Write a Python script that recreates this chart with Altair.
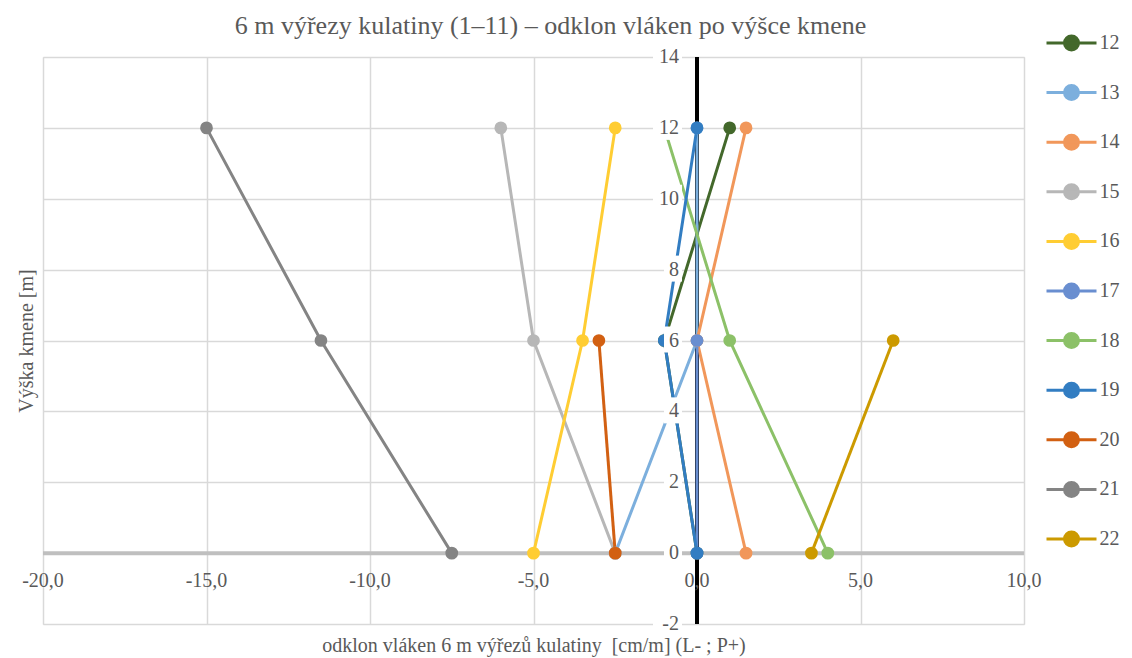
import altair as alt
import pandas as pd

# Stem heights [m] at which the fibre deviation was measured
heights = [0, 6, 12]

# Fibre deviation [cm/m] per log, at heights 0, 6 and 12 m (None = not measured)
series_names = ["12", "13", "14", "15", "16", "17", "18", "19", "20", "21", "22"]
dev_12 = [0.0, -1.0, 1.0]
dev_13 = [-2.5, 0.0, 0.0]
dev_14 = [1.5, 0.0, 1.5]
dev_15 = [-2.5, -5.0, -6.0]
dev_16 = [-5.0, -3.5, -2.5]
dev_17 = [0.0, 0.0, None]
dev_18 = [4.0, 1.0, -1.0]
dev_19 = [0.0, -1.0, 0.0]
dev_20 = [-2.5, -3.0, None]
dev_21 = [-7.5, -11.5, -15.0]
dev_22 = [3.5, 6.0, None]

series_colors = ["#43682B", "#7CAFDD", "#F1975A", "#B7B7B7", "#FFCD33", "#698ED0",
                 "#8CC168", "#327DC2", "#D26012", "#848484", "#CC9A00"]

x_ticks = [-20, -15, -10, -5, 0, 5, 10]
x_tick_labels = ["-20,0", "-15,0", "-10,0", "-5,0", "0,0", "5,0", "10,0"]
y_ticks = [-2, 0, 2, 4, 6, 8, 10, 12, 14]
y_tick_labels = ["-2", "0", "2", "4", "6", "8", "10", "12", "14"]

FONT = "Times New Roman, Liberation Serif, Tinos, Noto Serif, DejaVu Serif, serif"
TEXT_COLOR = "#595959"

all_devs = [dev_12, dev_13, dev_14, dev_15, dev_16, dev_17,
            dev_18, dev_19, dev_20, dev_21, dev_22]
rows = []
for name, devs in zip(series_names, all_devs):
    for h, d in zip(heights, devs):
        if d is not None:
            rows.append({"serie": name, "vyska": h, "odklon": d})
df = pd.DataFrame(rows)

ylab = pd.DataFrame({"v": y_ticks, "lab": y_tick_labels})
ylab["n"] = ylab["lab"].str.len()
xlab = pd.DataFrame({"v": x_ticks, "lab": x_tick_labels})

x_scale = alt.Scale(domain=[-20, 10], nice=False, zero=False)
y_scale = alt.Scale(domain=[-2, 14], nice=False, zero=False)
color_scale = alt.Scale(domain=series_names, range=series_colors)

x_axis = alt.Axis(values=x_ticks, grid=True, gridColor="#D9D9D9", gridWidth=1.5,
                  labels=False, ticks=False, domain=False,
                  title="odklon vláken 6 m výřezů kulatiny\u00a0 [cm/m] (L- ; P+)",
                  titleFont=FONT, titleFontSize=20, titleFontWeight="normal",
                  titleColor=TEXT_COLOR, titlePadding=11)
y_axis = alt.Axis(values=y_ticks, grid=True, gridColor="#D9D9D9", gridWidth=1.5,
                  labels=False, ticks=False, domain=False,
                  title="Výška kmene [m]",
                  titleFont=FONT, titleFontSize=20, titleFontWeight="normal",
                  titleColor=TEXT_COLOR, titlePadding=7)

# Horizontal axis line at height 0 and vertical axis line at deviation 0
h_axis = alt.Chart(pd.DataFrame({"x1": [-20], "x2": [10], "y": [0]})).mark_rule(
    color="#BFBFBF", strokeWidth=4
).encode(
    x=alt.X("x1:Q", scale=x_scale, axis=x_axis),
    x2="x2:Q",
    y=alt.Y("y:Q", scale=y_scale, axis=y_axis),
)
v_axis = alt.Chart(pd.DataFrame({"x": [0], "y1": [-2], "y2": [14]})).mark_rule(
    color="#000000", strokeWidth=4
).encode(
    x=alt.X("x:Q", scale=x_scale),
    y=alt.Y("y1:Q", scale=y_scale),
    y2="y2:Q",
)

# Legend symbol: a short line with a marker in its middle
legend_symbol = ("M-2,0H2 M-0.56,0 A0.56,0.56 0 1,0 0.56,0 "
                 "A0.56,0.56 0 1,0 -0.56,0 Z")
legend = alt.Legend(
    title=None, orient="none", legendX=1014.5, legendY=-28,
    symbolType=legend_symbol, symbolSize=625, symbolStrokeWidth=3,
    symbolOpacity=1,
    labelFont=FONT, labelFontSize=20, labelColor=TEXT_COLOR,
    labelOffset=14, rowPadding=22.6, padding=0,
)

lines = alt.Chart(df).mark_line(strokeWidth=3).encode(
    x=alt.X("odklon:Q", scale=x_scale),
    y=alt.Y("vyska:Q", scale=y_scale),
    stroke=alt.Stroke("serie:N", scale=color_scale, legend=legend),
    detail="serie:N",
    order="vyska:Q",
)

points = alt.Chart(df).mark_point(size=95, opacity=1, filled=False, strokeWidth=3).encode(
    x=alt.X("odklon:Q", scale=x_scale),
    y=alt.Y("vyska:Q", scale=y_scale),
    fill=alt.Fill("serie:N", scale=color_scale, legend=legend),
    stroke=alt.Stroke("serie:N", scale=color_scale, legend=legend),
)

# Vertical-axis labels sit on a white box at deviation 0
box_short = alt.Chart(ylab).transform_filter("datum.n == 1").mark_rect(
    color="white", xOffset=-33, x2Offset=-15, yOffset=-14, y2Offset=12
).encode(x=alt.datum(0, scale=x_scale), x2=alt.datum(0),
         y=alt.Y("v:Q", scale=y_scale), y2="v:Q")
box_long = alt.Chart(ylab).transform_filter("datum.n == 2").mark_rect(
    color="white", xOffset=-44, x2Offset=-15, yOffset=-14, y2Offset=12
).encode(x=alt.datum(0, scale=x_scale), x2=alt.datum(0),
         y=alt.Y("v:Q", scale=y_scale), y2="v:Q")
y_text = alt.Chart(ylab).mark_text(
    align="right", baseline="middle", dx=-18, dy=0,
    font=FONT, fontSize=20, color=TEXT_COLOR
).encode(x=alt.datum(0, scale=x_scale), y=alt.Y("v:Q", scale=y_scale), text="lab:N")

x_text = alt.Chart(xlab).mark_text(
    align="center", baseline="middle", dy=28,
    font=FONT, fontSize=20, color=TEXT_COLOR
).encode(x=alt.X("v:Q", scale=x_scale), y=alt.datum(0, scale=y_scale), text="lab:N")

chart = alt.layer(
    h_axis, v_axis, lines, points, box_short, box_long, y_text, x_text
).properties(
    width=981,
    height=567,
    title=alt.TitleParams(
        "6 m výřezy kulatiny (1–11) – odklon vláken po výšce kmene",
        font=FONT, fontSize=26, fontWeight="normal", color=TEXT_COLOR,
        anchor="middle", dx=17, offset=-10,
    ),
    autosize=alt.AutoSizeParams(type="none"),
    padding={"left": 43, "top": 57, "right": 108, "bottom": 34},
).configure_view(stroke=None).configure(background="white", font=FONT)

chart.save("out.html", embed_options={"renderer": "svg", "actions": False})
